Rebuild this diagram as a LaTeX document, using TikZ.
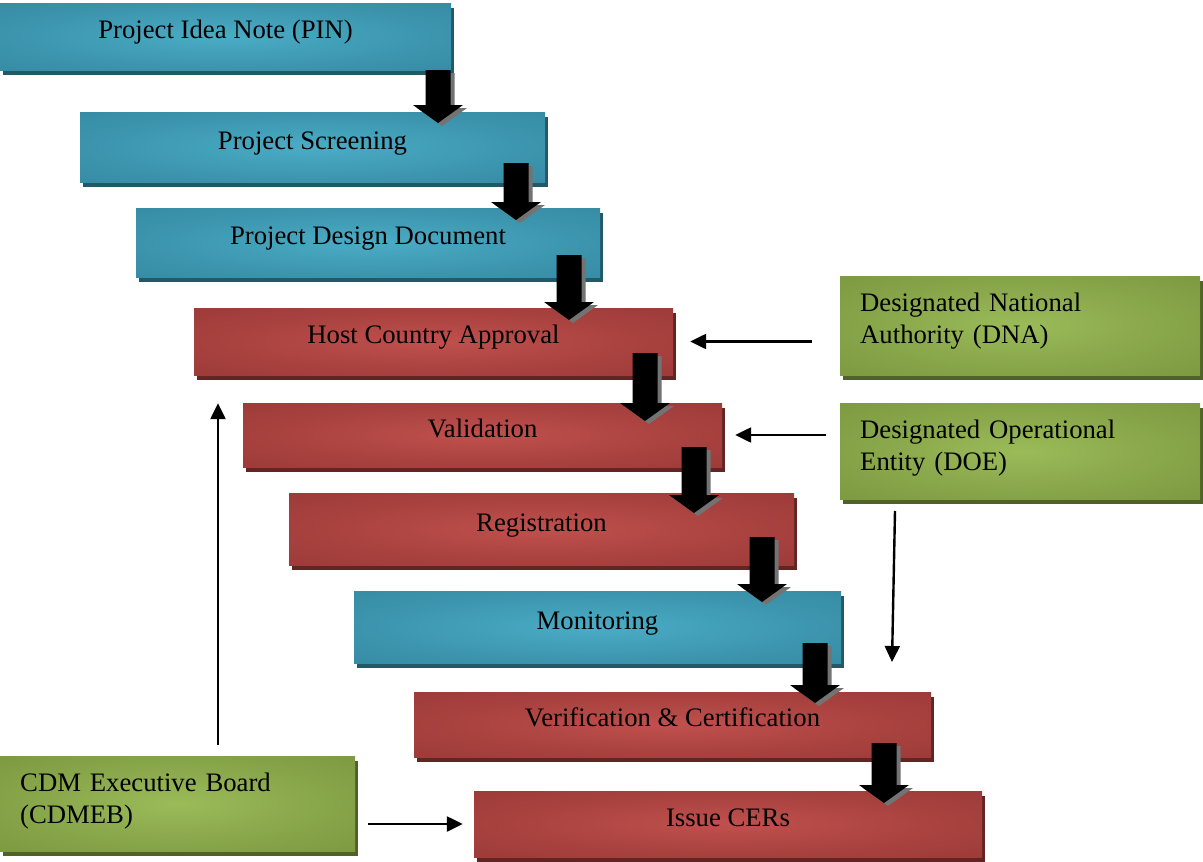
\documentclass[tikz,border=0pt]{standalone}
\usepackage{fontspec}
\setmainfont{Liberation Serif}
\usetikzlibrary{arrows.meta}

% palette: light centre, darker rim, and the drop-shadow tone of each family
\definecolor{tealC}{HTML}{4BACC6}
\definecolor{tealE}{HTML}{31849B}
\definecolor{tealS}{HTML}{215968}
\definecolor{redC}{HTML}{C0504D}
\definecolor{redE}{HTML}{943634}
\definecolor{redS}{HTML}{632523}
\definecolor{grnC}{HTML}{9BBB59}
\definecolor{grnE}{HTML}{76923C}
\definecolor{grnS}{HTML}{4F6228}
\colorlet{tealM}{tealC!45!tealE}
\colorlet{redM}{redC!45!redE}
\colorlet{grnM}{grnC!45!grnE}

\pgfdeclareradialshading{tealglow}{\pgfpoint{0bp}{0bp}}%
  {color(0bp)=(tealC); color(22bp)=(tealM); color(46bp)=(tealE); color(75bp)=(tealE)}
\pgfdeclareradialshading{redglow}{\pgfpoint{0bp}{0bp}}%
  {color(0bp)=(redC); color(22bp)=(redM); color(46bp)=(redE); color(75bp)=(redE)}
\pgfdeclareradialshading{grnglow}{\pgfpoint{0bp}{0bp}}%
  {color(0bp)=(grnC); color(22bp)=(grnM); color(46bp)=(grnE); color(75bp)=(grnE)}

\tikzset{
  txt/.style={font=\fontsize{26.7}{32}\selectfont, text=black},
  panel/.style={rectangle, inner sep=0pt, draw=none},
  stagebox/.style={panel, txt, text height=18pt, text depth=14pt},
  link/.style={-{Triangle[length=16pt,width=15pt]}, line width=2.4pt},
  pics/downblock/.style={code={
    \fill[black!55, shift={(4,3)}] (-12.5,0) -- (12.5,0) -- (12.5,{#1-18}) -- (25,{#1-18})
      -- (0,#1) -- (-25,{#1-18}) -- (-12.5,{#1-18}) -- cycle;
    \fill[black] (-12.5,0) -- (12.5,0) -- (12.5,{#1-18}) -- (25,{#1-18})
      -- (0,#1) -- (-25,{#1-18}) -- (-12.5,{#1-18}) -- cycle;
  }},
}

% stage box: name, colour family, left, top, right, bottom, text
\newcommand\stage[7]{%
  \node[panel, fill=#2S, minimum width={#5-#3}, minimum height={#6-#4}]
    (#1-sh) at ({(#3+#5)/2+3},{(#4+#6)/2+5}) {};
  \node[stagebox, shading=#2glow, minimum width={#5-#3}, minimum height={#6-#4}]
    (#1) at ({(#3+#5)/2},{(#4+#6)/2}) {#7};
}
% actor box: name, left, top, right, bottom, two-line text
\newcommand\actor[6]{%
  \node[panel, fill=grnS, minimum width={#4-#2}, minimum height={#5-#3}]
    (#1-sh) at ({(#2+#4)/2+3},{(#3+#5)/2+5}) {};
  \node[panel, shading=grnglow, minimum width={#4-#2}, minimum height={#5-#3}]
    (#1) at ({(#2+#4)/2},{(#3+#5)/2}) {};
  \node[txt, inner sep=0pt, anchor=base west, text width={#4-#2-40}, align=left]
    (#1-txt) at ({#2+20},{#3+35}) {#6};
}

\begin{document}
\begin{tikzpicture}[x=1pt, y=-1pt]
\useasboundingbox (0,0) rectangle (1203,862);

\stage{pin}{teal}{0}{3}{451}{70}{Project Idea Note (PIN)}
\stage{scr}{teal}{80}{112}{545}{182}{Project Screening}
\stage{pdd}{teal}{136}{208}{600}{277}{Project Design Document}
\stage{hca}{red}{194}{308}{673}{375}{Host Country Approval}
\stage{val}{red}{243}{403}{722}{467}{Validation}
\stage{reg}{red}{289}{493}{794}{565}{Registration}
\stage{mon}{teal}{354}{591}{841}{663}{Monitoring}
\stage{ver}{red}{414}{692}{931}{757}{Verification \& Certification}
\stage{iss}{red}{474}{791}{982}{857}{Issue CERs}

\actor{dna}{840}{276}{1200}{375}{Designated National\\Authority (DNA)}
\actor{doe}{840}{403}{1200}{499}{Designated Operational\\Entity (DOE)}
\actor{cdm}{0}{756}{355}{851}{CDM Executive Board\\(CDMEB)}

% block arrows between consecutive stages
\pic (a1) at (438,70) {downblock=53};
\pic (a2) at (516,163) {downblock=57};
\pic (a3) at (569,255) {downblock=65};
\pic (a4) at (645,353) {downblock=68};
\pic (a5) at (694,447) {downblock=66};
\pic (a6) at (762,537) {downblock=65};
\pic (a7) at (815,643) {downblock=60};
\pic (a8) at (884,743) {downblock=60};

% thin connectors from the actors
\coordinate (upx) at (218,0);
\coordinate (doeout) at (895,511);
\coordinate (doein) at (892,662);
\draw[link, shorten <=28pt, shorten >=17pt] (dna.west |- hca.east) -- (hca.east);
\draw[link, shorten <=14pt, shorten >=13pt] (doe.west |- val.east) -- (val.east);
\draw[link] (doeout) -- (doein);
\draw[link, shorten <=11pt, shorten >=28pt] (cdm.north -| upx) -- (hca.south -| upx);
\draw[link, shorten <=13pt, shorten >=11pt] (cdm.east |- iss.west) -- (iss.west);
\end{tikzpicture}
\end{document}
